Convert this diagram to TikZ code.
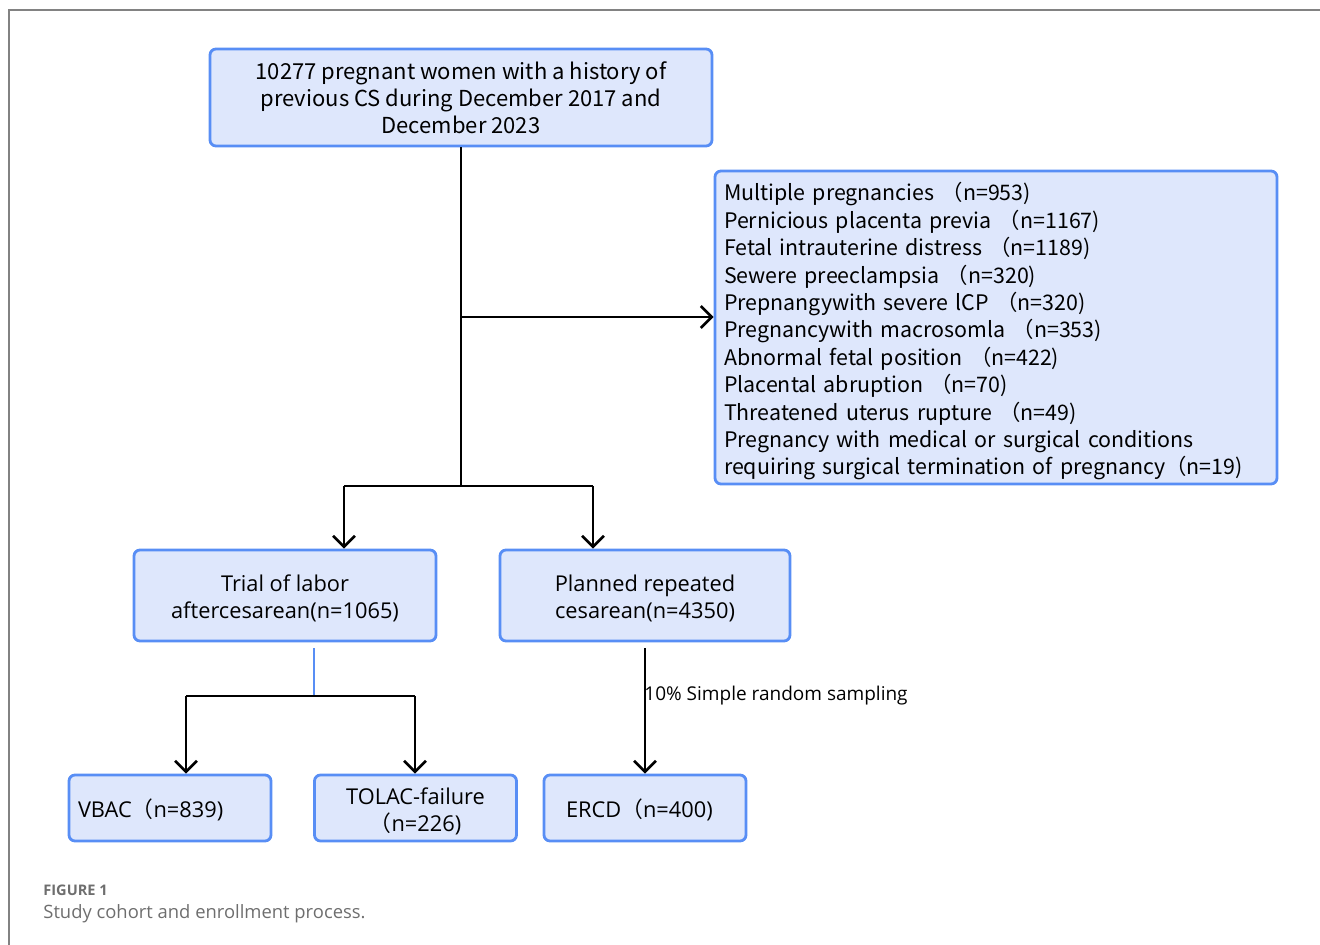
\documentclass[tikz,border=0pt]{standalone}
\usepackage{fontspec}
\setmainfont{Noto Sans CJK SC}
\newfontfamily\lowfont{Open Sans}
\newfontfamily\cjkfont{Noto Sans CJK SC}
\usetikzlibrary{arrows.meta}
\definecolor{boxblue}{RGB}{88,142,245}
\definecolor{boxfill}{RGB}{222,231,252}
\definecolor{framegray}{RGB}{130,130,130}
\definecolor{capgray}{RGB}{110,110,110}
\newcommand{\fwp}{{\cjkfont （}}
\newcommand{\lowstrut}{\rule{0pt}{11.4pt}}

\begin{document}
\begin{tikzpicture}[x=0.5pt,y=-0.5pt,
		box/.style={draw=boxblue,fill=boxfill,line width=1.4pt,rounded corners=3pt,inner sep=0pt},
		link/.style={draw=black,line width=1.3pt},
		flow/.style={link,-{Straight Barb[length=5.5pt,width=11pt]}},
		topfont/.style={font=\fontsize{11}{13.6}\selectfont},
		listfont/.style={font=\fontsize{10.7}{13.7}\selectfont},
		lowtext/.style={font=\lowfont\fontsize{10.9}{13.6}\selectfont}]
		\useasboundingbox (0,0) rectangle (1320,945);

		\draw[framegray,line width=0.8pt] (9,945) -- (9,10) -- (1320,10);

		\node[box,topfont,align=center,minimum width=251pt,minimum height=48.5pt] (total) at (461,97.5)
			{10277 pregnant women with a history of\\previous CS during December 2017 and\\December 2023};
		\node[box,listfont,align=left,text width=272pt,inner xsep=4.5pt,minimum height=156.5pt] (excl) at (996,327.5)
			{\rule{0pt}{13pt}Multiple pregnancies \fwp n=953)\\
			Pernicious placenta previa \fwp n=1167)\\
			Fetal intrauterine distress \fwp n=1189)\\
			Sewere preeclampsia \fwp n=320)\\
			Prepnangywith severe lCP \fwp n=320)\\
			Pregnancywith macrosomla \fwp n=353)\\
			Abnormal fetal position \fwp n=422)\\
			Placental abruption \fwp n=70)\\
			Threatened uterus rupture \fwp n=49)\\
			Pregnancy with medical or surgical conditions\\
			requiring surgical termination of pregnancy\fwp n=19)};

		\node[box,lowtext,align=center,minimum width=151pt,minimum height=45.5pt] (tolac) at (285,595.5)
			{\lowstrut Trial of labor\\aftercesarean(n=1065)};
		\node[box,lowtext,align=center,minimum width=145pt,minimum height=45.5pt] (prc) at (645,595.5)
			{\lowstrut Planned repeated\\cesarean(n=4350)};

		\node[box,lowtext,align=left,text width=92pt,inner xsep=4.5pt,minimum height=33pt] (vbac) at (170,808)
			{\lowstrut VBAC\fwp n=839)};
		\node[box,lowtext,align=center,minimum width=101pt,minimum height=33pt] (fail) at (415.5,808)
			{\lowstrut TOLAC-failure\\\fwp n=226)};
		\node[box,lowtext,align=left,text width=79pt,inner xsep=11pt,minimum height=33pt] (ercd) at (645,808)
			{\lowstrut ERCD\fwp n=400)};

		\coordinate (side) at (461,317);
		\coordinate (split) at (461,486);
		\coordinate (lsplit) at (344,486);
		\coordinate (rsplit) at (593,486);
		\draw[link] (total) -- (split);
		\draw[flow] (side) -- (side -| excl.west);
		\draw[link] (lsplit) -- (rsplit);
		\draw[flow] (lsplit) -- (lsplit |- tolac.north);
		\draw[flow] (rsplit) -- (rsplit |- prc.north);

		\coordinate (tstem) at (314,648);
		\coordinate (tsplit) at (314,696);
		\coordinate (vsplit) at (186,696);
		\coordinate (fsplit) at (415,696);
		\draw[boxblue,line width=1pt] (tstem) -- (tsplit);
		\draw[link] (vsplit) -- (fsplit);
		\draw[flow] (vsplit) -- (vsplit |- vbac.north);
		\draw[flow] (fsplit) -- (fsplit |- fail.north);

		\coordinate (pstem) at (645,648);
		\draw[flow] (pstem) -- (ercd.north);
		\node[anchor=west,inner sep=0pt,font=\lowfont\fontsize{9.5}{11}\selectfont] (sample) at (644,696)
			{10\% Simple random sampling};

		\node[anchor=west,inner sep=0pt,text=capgray,font=\lowfont\bfseries\fontsize{7.3}{9}\selectfont] (figno) at (43,890)
			{FIGURE 1};
		\node[anchor=west,inner sep=0pt,text=capgray,font=\lowfont\fontsize{9.2}{11}\selectfont] (caption) at (43,914)
			{Study cohort and enrollment process.};
	\end{tikzpicture}
\end{document}
